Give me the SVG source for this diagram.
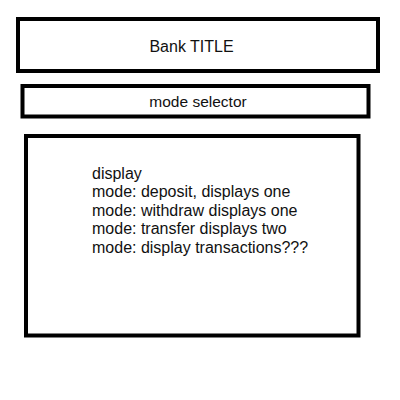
<svg xmlns="http://www.w3.org/2000/svg" width="400" height="400" viewBox="0 0 400 400">
  <style>
    .box { fill: #fff; stroke: #000; stroke-width: 4; }
    .lbl { font-family: "Liberation Sans", Arial, sans-serif; font-size: 16px; fill: #111; }
  </style>
  <rect width="400" height="400" fill="#fff"/>
  <g id="title">
    <rect class="box" x="18" y="19" width="360" height="52"/>
    <text class="lbl" x="191.5" y="51.5" text-anchor="middle">Bank TITLE</text>
  </g>
  <g id="mode-selector">
    <rect class="box" x="22.5" y="86" width="346" height="30.5"/>
    <text class="lbl" x="198" y="106.5" text-anchor="middle" style="font-size:15.5px">mode selector</text>
  </g>
  <g id="display">
    <rect class="box" x="26" y="136" width="332.5" height="199.5"/>
    <text class="lbl" x="92" y="178.5">display</text>
    <text class="lbl" x="92" y="197">mode: deposit, displays one</text>
    <text class="lbl" x="92" y="215.5">mode: withdraw displays one</text>
    <text class="lbl" x="92" y="234">mode: transfer displays two</text>
    <text class="lbl" x="92" y="252.5">mode: display transactions???</text>
  </g>
  <g id="connectors"></g>
</svg>
